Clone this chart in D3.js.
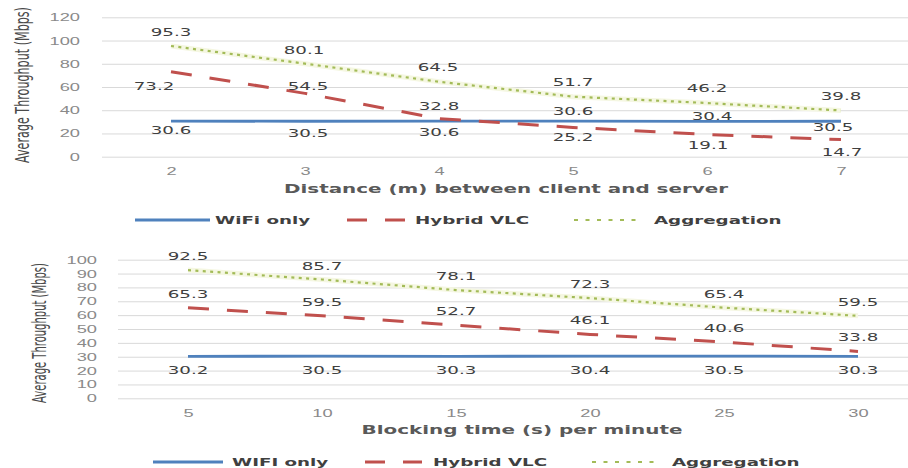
<!doctype html>
<html>
<head>
<meta charset="UTF-8">
<title>Average throughput</title>
<script src="https://cdnjs.cloudflare.com/ajax/libs/d3/7.8.5/d3.min.js"></script>
<style>
  body { margin: 0; background: #fff; }
  svg { display: block; font-family: "DejaVu Sans", sans-serif; }
</style>
</head>
<body>
<svg id="chart" width="908" height="468"></svg>
<script>
// ---- data ----
const seriesNamesTop = ['WiFi only', 'Hybrid VLC', 'Aggregation'];
const seriesNamesBottom = ['WIFI only', 'Hybrid VLC', 'Aggregation'];

const distCats = [2, 3, 4, 5, 6, 7];
const distWifi = [30.6, 30.5, 30.6, 30.6, 30.4, 30.5];
const distHybrid = [73.2, 54.5, 32.8, 25.2, 19.1, 14.7];
const distAgg = [95.3, 80.1, 64.5, 51.7, 46.2, 39.8];
const distTicks = [0, 20, 40, 60, 80, 100, 120];

const blockCats = [5, 10, 15, 20, 25, 30];
const blockWifi = [30.2, 30.5, 30.3, 30.4, 30.5, 30.3];
const blockHybrid = [65.3, 59.5, 52.7, 46.1, 40.6, 33.8];
const blockAgg = [92.5, 85.7, 78.1, 72.3, 65.4, 59.5];
const blockTicks = [0, 10, 20, 30, 40, 50, 60, 70, 80, 90, 100];

// the source picture is stretched sideways, so text is widened to match
const SX = 1.66;
const W = 908;
const colors = ['#4f81bd', '#c0504d', '#a3bb58'];

// where Excel put each data label (offset of label centre from its point)
const topLabelOff = [
  [[0, 9], [3, 12], [0, 11], [0, -10], [5, -5], [-8, 6]],
  [[-17, 14], [3, -7], [0, -13], [0, 10], [1, 11], [1, 12]],
  [[0, -14], [-1, -14], [-1, -15], [0, -15], [0, -15], [0, -14]]
];
const bottomLabelOff = [
  [[0, 14], [0, 14], [0, 14], [0, 14], [0, 14], [0, 14]],
  [[0, -14], [0, -14], [0, -14], [0, -14], [0, -14], [0, -14]],
  [[0, -14], [0, -13], [0, -14], [0, -14], [0, -14], [0, -14]]
];

const svg = d3.select('#chart');

function stext(g, x, y, str) {
  return g.append('text')
    .attr('transform', 'translate(' + x + ',' + y + ') scale(' + SX + ',1)')
    .text(str);
}

function drawPanel(p) {
  const g = svg.append('g');
  const y = d3.scaleLinear().domain([0, p.ticks[p.ticks.length - 1]]).range(p.yRange);
  const x = d3.scalePoint().domain(p.cats).range(p.xRange).padding(0.5);

  // grid + y labels
  const ya = g.append('g')
    .attr('transform', 'translate(' + p.gridX0 + ',0)')
    .call(d3.axisLeft(y).tickValues(p.ticks).tickSize(-(W - p.gridX0)).tickPadding(0));
  ya.select('.domain').remove();
  ya.selectAll('line').attr('stroke', '#d9d9d9').attr('stroke-width', 1);
  ya.selectAll('text')
    .attr('x', -p.yPad / SX)
    .attr('transform', 'scale(' + SX + ',1)')
    .attr('fill', '#8a8a8a')
    .attr('font-size', 11);

  // x labels
  const xa = g.append('g')
    .attr('transform', 'translate(0,' + y(0) + ')')
    .call(d3.axisBottom(x).tickSize(0).tickPadding(p.xPad));
  xa.select('.domain').remove();
  xa.selectAll('text')
    .attr('transform', 'scale(' + SX + ',1)')
    .attr('fill', '#8a8a8a')
    .attr('font-size', 11);

  // axis titles
  stext(g, W / 2 + p.xTitleShift, p.xTitleY, p.xTitle)
    .attr('text-anchor', 'middle')
    .attr('font-weight', 'bold')
    .attr('font-size', 12)
    .attr('fill', '#595959');

  // y title: condensed along its length, widened across (as in the source)
  const yt = g.append('text')
    .attr('text-anchor', 'middle')
    .attr('dy', '0.35em')
    .attr('font-size', 14)
    .attr('fill', '#4a4a4a')
    .text('Average Throughput (Mbps)');
  const sy = p.yTitleLen / yt.node().getComputedTextLength();
  yt.attr('transform', 'translate(' + p.yTitleX + ',' + p.yTitleY + ') scale(' + SX * 0.85 + ',' + sy + ') rotate(-90)');

  // lines
  const line = d3.line().x((d, i) => x(p.cats[i])).y(d => y(d));
  const styles = [
    { w: 2.8, dash: null },
    { w: 3, dash: '21,18' },
    { w: 2.2, dash: '3,4.4' }
  ];
  // faint glow under the dotted line
  g.append('path').datum(p.series[2]).attr('d', line)
    .attr('fill', 'none').attr('stroke', '#f5f7e2').attr('stroke-width', 5);
  p.series.forEach((s, k) => {
    g.append('path').datum(s).attr('d', line)
      .attr('fill', 'none')
      .attr('stroke', colors[k])
      .attr('stroke-width', styles[k].w)
      .attr('stroke-dasharray', styles[k].dash);
  });

  // data labels
  p.series.forEach((s, k) => {
    s.forEach((v, i) => {
      const o = p.labelOff[k][i];
      stext(g, x(p.cats[i]) + o[0], y(v) + o[1], v.toFixed(1))
        .attr('text-anchor', 'middle')
        .attr('dy', '0.36em')
        .attr('font-size', 11)
        .attr('fill', '#404040');
    });
  });

  // legend
  p.names.forEach((name, k) => {
    const lx = p.legendX[k];
    const ly = p.legendY;
    g.append('line')
      .attr('x1', lx).attr('x2', lx + p.legendLen[k])
      .attr('y1', ly).attr('y2', ly)
      .attr('stroke', colors[k])
      .attr('stroke-width', styles[k].w)
      .attr('stroke-dasharray', k === 0 ? null : (k === 1 ? '20,18' : '4,7.5'));
    stext(g, lx + p.legendLen[k] + p.legendGap[k], ly + 4, name)
      .attr('font-weight', 'bold')
      .attr('font-size', 11)
      .attr('fill', '#404040');
  });
}

drawPanel({
  cats: distCats,
  series: [distWifi, distHybrid, distAgg],
  names: seriesNamesTop,
  ticks: distTicks,
  yRange: [156.7, 17.3],
  xRange: [104, 908],
  gridX0: 102,
  yPad: 22,
  xPad: 10.5,
  xTitle: 'Distance (m) between client and server',
  xTitleY: 192.5,
  xTitleShift: 52,
  yTitleX: 22,
  yTitleY: 85,
  yTitleLen: 156,
  labelOff: topLabelOff,
  legendX: [135, 347, 574],
  legendLen: [75, 60, 65],
  legendGap: [5, 8, 15],
  legendY: 220
});

drawPanel({
  cats: blockCats,
  series: [blockWifi, blockHybrid, blockAgg],
  names: seriesNamesBottom,
  ticks: blockTicks,
  yRange: [398.3, 259.7],
  xRange: [121, 925],
  gridX0: 118,
  yPad: 21,
  xPad: 10.6,
  xTitle: 'Blocking time (s) per minute',
  xTitleY: 434,
  xTitleShift: 68,
  yTitleX: 39,
  yTitleY: 333,
  yTitleLen: 140,
  labelOff: bottomLabelOff,
  legendX: [153, 365, 592],
  legendLen: [70, 57, 65],
  legendGap: [9, 11, 15],
  legendY: 462
});
</script>
</body>
</html>
